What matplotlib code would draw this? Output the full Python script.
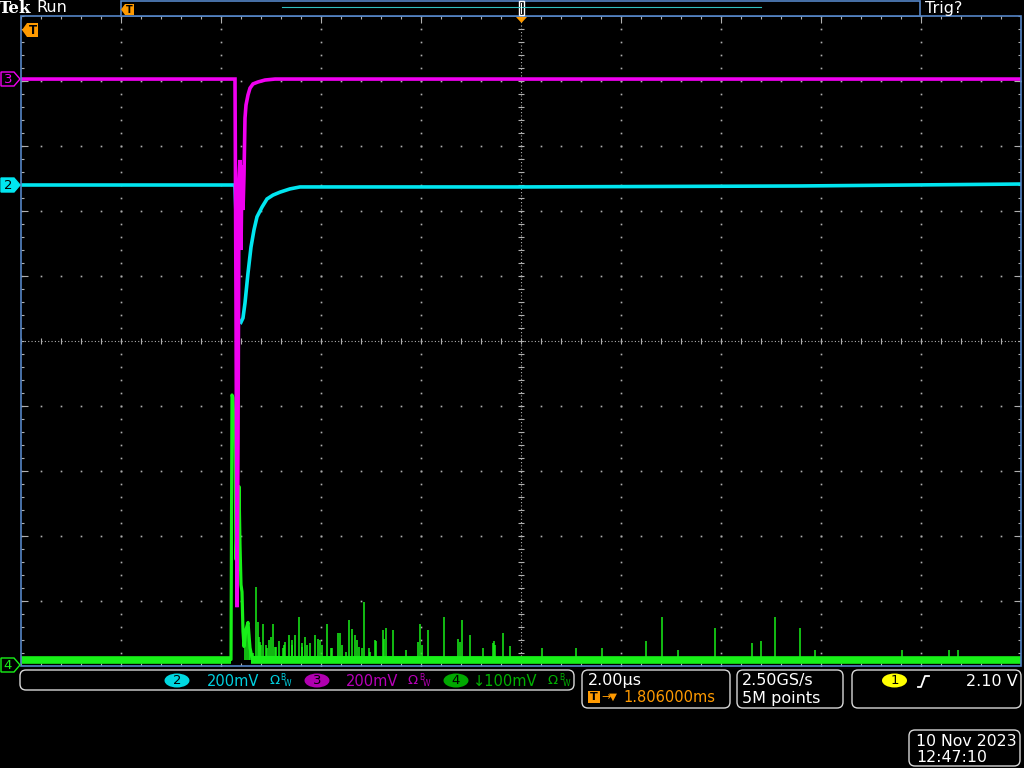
import numpy as np
import matplotlib
matplotlib.use("Agg")
import matplotlib.pyplot as plt
from matplotlib.patches import Polygon, FancyBboxPatch, Rectangle, Ellipse

# scope settings: 2 us/div, 10 x 10 divisions, time in us from trigger
ch_scale = {2: 200.0, 3: 200.0, 4: 100.0}     # mV/div
ch_offset = {2: 2.40, 3: 4.03, 4: -4.98}      # div from screen centre

# channel 3 (magenta), mV
ch3_t = [-10, -5.74, -5.72, -5.70, -5.68, -5.66, -5.64, -5.62, -5.60, -5.58,
         -5.56, -5.54, -5.52, -5.50, -5.46, -5.42, -5.36, -5.26, -5.12, -4.92, 10]
ch3_mv = [0, 0, 0, -680, -1625, -1111, -311, -249, -526, -265,
          -403, -295, -120, -80, -49, -28, -15, -9, -3, 0, 0]

# channel 2 (cyan), mV
ch2_t = [-10, -5.74, -5.72, -5.70, -5.68, -5.66, -5.60, -5.56, -5.52, -5.46,
         -5.40, -5.34, -5.28, -5.18, -5.08, -4.96, -4.82, -4.62, -4.42, 0, 5.58, 10]
ch2_mv = [0, 0, -3, -92, -323, -415, -422, -409, -363, -271,
          -191, -138, -98, -68, -43, -31, -22, -12, -6, -6, -3, 3]

# channel 4 (green), mV
ch4_t = [-10, -5.80, -5.78, -5.76, -5.74, -5.72, -5.70, -5.68, -5.66, -5.64,
         -5.62, -5.60, -5.58, -5.56, -5.54, -5.50, -5.46, -5.42, -5.38, 10]
ch4_mv = [8, 8, 415, 411, 365, 354, 162, 215, 146, 274,
          185, 123, 112, 51, 28, 54, 65, 26, 11, 8]

# channel 4 noise spikes after the event
spk_t = [-5.52, -5.48, -5.44, -5.31, -5.26, -5.22, -5.16, -5.10, -5.04, -4.96,
         -4.90, -4.84, -4.74, -4.64, -4.58, -4.52, -4.44, -4.38, -4.32, -4.22,
         -4.12, -4.06, -3.98, -3.88, -3.80, -3.66, -3.58, -3.44, -3.32, -3.24,
         -3.14, -3.04, -2.90, -2.76, -2.70, -2.56, -2.30, -2.02, -1.86, -1.54,
         -1.18, -1.02, -0.76, -0.54, -0.36, -0.22, 0.42, 1.10, 1.62, 2.50,
         2.82, 3.14, 3.88, 4.62, 4.80, 5.08, 5.58, 5.88, 7.62, 8.56, 8.74]
spk_mv = [40, 55, 45, 120, 65, 35, 62, 30, 38, 62,
          28, 37, 30, 45, 30, 45, 74, 28, 42, 34,
          45, 40, 30, 62, 25, 49, 30, 69, 45, 28,
          97, 25, 37, 54, 57, 54, 22, 62, 54, 74,
          69, 45, 25, 37, 49, 29, 25, 25, 25, 37,
          74, 22, 57, 34, 37, 74, 57, 22, 22, 22, 22]

# smaller "grass" right after the event
grass_t = [-5.42, -5.36, -5.24, -5.20, -5.08, -5.00, -4.92, -4.76, -4.72, -4.58,
           -4.38, -4.28, -4.02, -3.78, -3.62, -3.50, -3.38, -3.28, -3.18, -3.02,
           -2.92, -2.74, -2.06, -1.98, -1.26, -1.22, -0.56, -0.52]
grass_mv = [38, 18, 43, 31, 25, 43, 28, 26, 35, 38,
            34, 31, 38, 26, 49, 20, 55, 38, 25, 20,
            38, 40, 35, 30, 40, 35, 33, 30]

MAG = '#f000f0'
CYN = '#00e6f0'
GRN = '#18f018'
ORG = '#ff9a00'
BLU = '#5585c5'
GRY = '#b0b0b0'


def to_div(ch, mv):
    return ch_offset[ch] + np.asarray(mv) / ch_scale[ch]


fig = plt.figure(figsize=(10.24, 7.68), dpi=100, facecolor='black')
ax = fig.add_axes([21 / 1024, 102 / 768, 1000 / 1024, 650 / 768])
ax.set_facecolor('black')
ax.set_xlim(-10, 10)
ax.set_ylim(-5, 5)
ax.set_xticks([])
ax.set_yticks([])
for s in ax.spines.values():
    s.set_visible(False)

px_x = 0.02       # us per pixel
px_y = 1 / 65.0   # div per pixel

# graticule dots
ydots = np.arange(-5, 5.001, 0.2)
xdots = np.arange(-10, 10.001, 0.4)
for gx in [-8, -6, -4, -2, 2, 4, 6, 8]:
    ax.plot([gx] * len(ydots), ydots, 's', ms=1.2, mew=0, color=GRY)
for gy in [-4, -3, -2, -1, 1, 2, 3, 4]:
    ax.plot(xdots, [gy] * len(xdots), 's', ms=1.2, mew=0, color=GRY)

# centre cross
ax.axvline(0, ls=(0, (1, 2)), lw=0.8, color=GRY)
ax.axhline(0, ls=(0, (1, 2)), lw=0.8, color=GRY)
ax.hlines(ydots, -3 * px_x, 3 * px_x, lw=0.8, color=GRY)
ax.vlines(xdots, -3 * px_y, 3 * px_y, lw=0.8, color=GRY)

# edge ticks
ax.vlines(xdots, 5 - 3 * px_y, 5, lw=0.8, color=GRY)
ax.vlines(xdots, -5, -5 + 3 * px_y, lw=0.8, color=GRY)
ax.hlines(ydots, -10, -10 + 3 * px_x, lw=0.8, color=GRY)
ax.hlines(ydots, 10 - 3 * px_x, 10, lw=0.8, color=GRY)
maj = [-8, -6, -4, -2, 2, 4, 6, 8]
ax.vlines(maj, 5 - 7 * px_y, 5, lw=0.8, color=GRY)
ax.vlines(maj, -5, -5 + 7 * px_y, lw=0.8, color=GRY)
ax.hlines([-4, -3, -2, -1, 1, 2, 3, 4], -10, -10 + 7 * px_x, lw=0.8, color=GRY)
ax.hlines([-4, -3, -2, -1, 1, 2, 3, 4], 10 - 7 * px_x, 10, lw=0.8, color=GRY)

# traces
ax.plot(ch2_t, to_div(2, ch2_mv), color=CYN, lw=2.6, zorder=3,
        solid_joinstyle='miter')
g_base = float(to_div(4, ch4_mv[0]))
ax.hlines([g_base, g_base], [-10, -5.40], [-5.80, 10], color=GRN, lw=5.5, zorder=4)
ax.vlines(spk_t, g_base, to_div(4, spk_mv), color=GRN, lw=1.1, zorder=4)
ax.vlines(grass_t, g_base, to_div(4, grass_mv), color=GRN, lw=1.1, zorder=4)
ax.plot(ch4_t, to_div(4, ch4_mv), color=GRN, lw=2.3, zorder=4)
ax.plot(ch3_t, to_div(3, ch3_mv), color=MAG, lw=2.6, zorder=5,
        solid_joinstyle='miter')

# overlay in screen pixels
ov = fig.add_axes([0, 0, 1, 1])
ov.set_xlim(0, 1024)
ov.set_ylim(768, 0)
ov.axis('off')
ov.patch.set_alpha(0)

ov.add_patch(Rectangle((21, 16), 1000, 650, fill=False, ec=BLU, lw=1.2))
ov.add_patch(Rectangle((121, 0.7), 799, 15.3, fc='black', ec=BLU, lw=1.2))
ov.plot([282, 761], [7, 7], color='#30c0c0', lw=0.8)
ov.add_patch(Rectangle((518.5, 1), 5.5, 14, fc='black', ec='white', lw=1.0))
ov.plot([521.3, 521.3], [3, 13], color='white', lw=0.8)
ov.add_patch(Polygon([(516, 17), (527, 17), (521.5, 23)], fc=ORG, ec='none'))

# trigger markers
ov.add_patch(Polygon([(121, 9.5), (125, 4), (134, 4), (134, 15), (125, 15)],
                     fc=ORG, ec='none'))
ov.text(129.5, 10, 'T', color='black', fontsize=7, fontweight='bold',
        ha='center', va='center')
ov.add_patch(Polygon([(22, 30), (27, 23), (38, 23), (38, 37), (27, 37)],
                     fc=ORG, ec='none'))
ov.text(32.5, 30.5, 'T', color='black', fontsize=8.5, fontweight='bold',
        ha='center', va='center')

ov.text(-1, 8.5, 'Tek', color='white', fontsize=12, fontweight='bold',
        family='DejaVu Serif', ha='left', va='center')
ov.text(36, 8, 'Run', color='white', fontsize=11.5, ha='left', va='center')
ov.text(925, 8, 'Trig?', color='white', fontsize=11.5, ha='left', va='center')

# channel markers
def ch_marker(y, num, edge, face, tc):
    ov.add_patch(Polygon([(1, y - 7), (14, y - 7), (20, y), (14, y + 7), (1, y + 7)],
                         fc=face, ec=edge, lw=1.0))
    ov.text(8, y + 0.5, num, color=tc, fontsize=9.5, ha='center', va='center')

ch_marker(79, '3', MAG, 'black', MAG)
ch_marker(185, '2', CYN, CYN, 'black')
ch_marker(665, '4', GRN, 'black', GRN)

# bottom status bar
def rbox(x0, y0, x1, y1):
    ov.add_patch(FancyBboxPatch((x0, y0), x1 - x0, y1 - y0,
                                boxstyle='round,pad=0,rounding_size=6',
                                fc='black', ec='#d8d8d8', lw=1.0))

rbox(20, 670, 574, 690)
rbox(582, 670, 730, 708)
rbox(737, 670, 843, 708)
rbox(852, 670, 1021, 708)
rbox(909, 730, 1020, 766)

def ch_label(xc, num, fill, tcol, text_x, text, bw_x):
    ov.add_patch(Ellipse((xc, 680.5), 25, 14, fc=fill, ec='none'))
    ov.text(xc, 681, num, color='black', fontsize=9.5, ha='center', va='center')
    ov.text(text_x, 681, text, color=tcol, fontsize=10.5, ha='left', va='center')
    ov.text(bw_x, 681, 'Ω', color=tcol, fontsize=9.5, ha='left', va='center')
    ov.text(bw_x + 11, 677, 'B', color=tcol, fontsize=5.5, ha='left', va='center')
    ov.text(bw_x + 15, 684, 'W', color=tcol, fontsize=5.5, ha='left', va='center')

ch_label(177, '2', '#00d8e0', '#00d0e0', 207, '200mV', 269)
ch_label(317, '3', '#b000b0', '#b800b8', 346, '200mV', 408)
ch_label(456, '4', '#00a800', '#00b000', 473, '↓100mV', 548)

ov.text(588, 681, '2.00µs', color='white', fontsize=11.5, ha='left', va='center')
ov.add_patch(Rectangle((588, 691), 12, 12, fc=ORG, ec='none'))
ov.text(594, 697.5, 'T', color='black', fontsize=8, fontweight='bold',
        ha='center', va='center')
ov.text(601, 697, '→', color=ORG, fontsize=8, ha='left', va='center')
ov.text(609, 697, '▼', color=ORG, fontsize=7.5, ha='left', va='center')
ov.text(623, 697.5, '1.806000ms', color=ORG, fontsize=10.5, ha='left', va='center')

ov.text(742, 681, '2.50GS/s', color='white', fontsize=11.5, ha='left', va='center')
ov.text(742, 698, '5M points', color='white', fontsize=11.5, ha='left', va='center')

ov.add_patch(Ellipse((894.5, 680.5), 25, 14, fc='#ffff00', ec='none'))
ov.text(894.5, 681, '1', color='black', fontsize=9.5, ha='center', va='center')
ov.plot([918, 921, 925, 929], [687, 687, 676, 676], color='white', lw=1.3)
ov.text(966, 681, '2.10 V', color='white', fontsize=11.5, ha='left', va='center')

ov.text(916, 741, '10 Nov 2023', color='white', fontsize=11.3, ha='left', va='center')
ov.text(916, 757.5, '12:47:10', color='white', fontsize=11.3, ha='left', va='center')

fig.savefig('out.png', dpi=100, facecolor='black')
